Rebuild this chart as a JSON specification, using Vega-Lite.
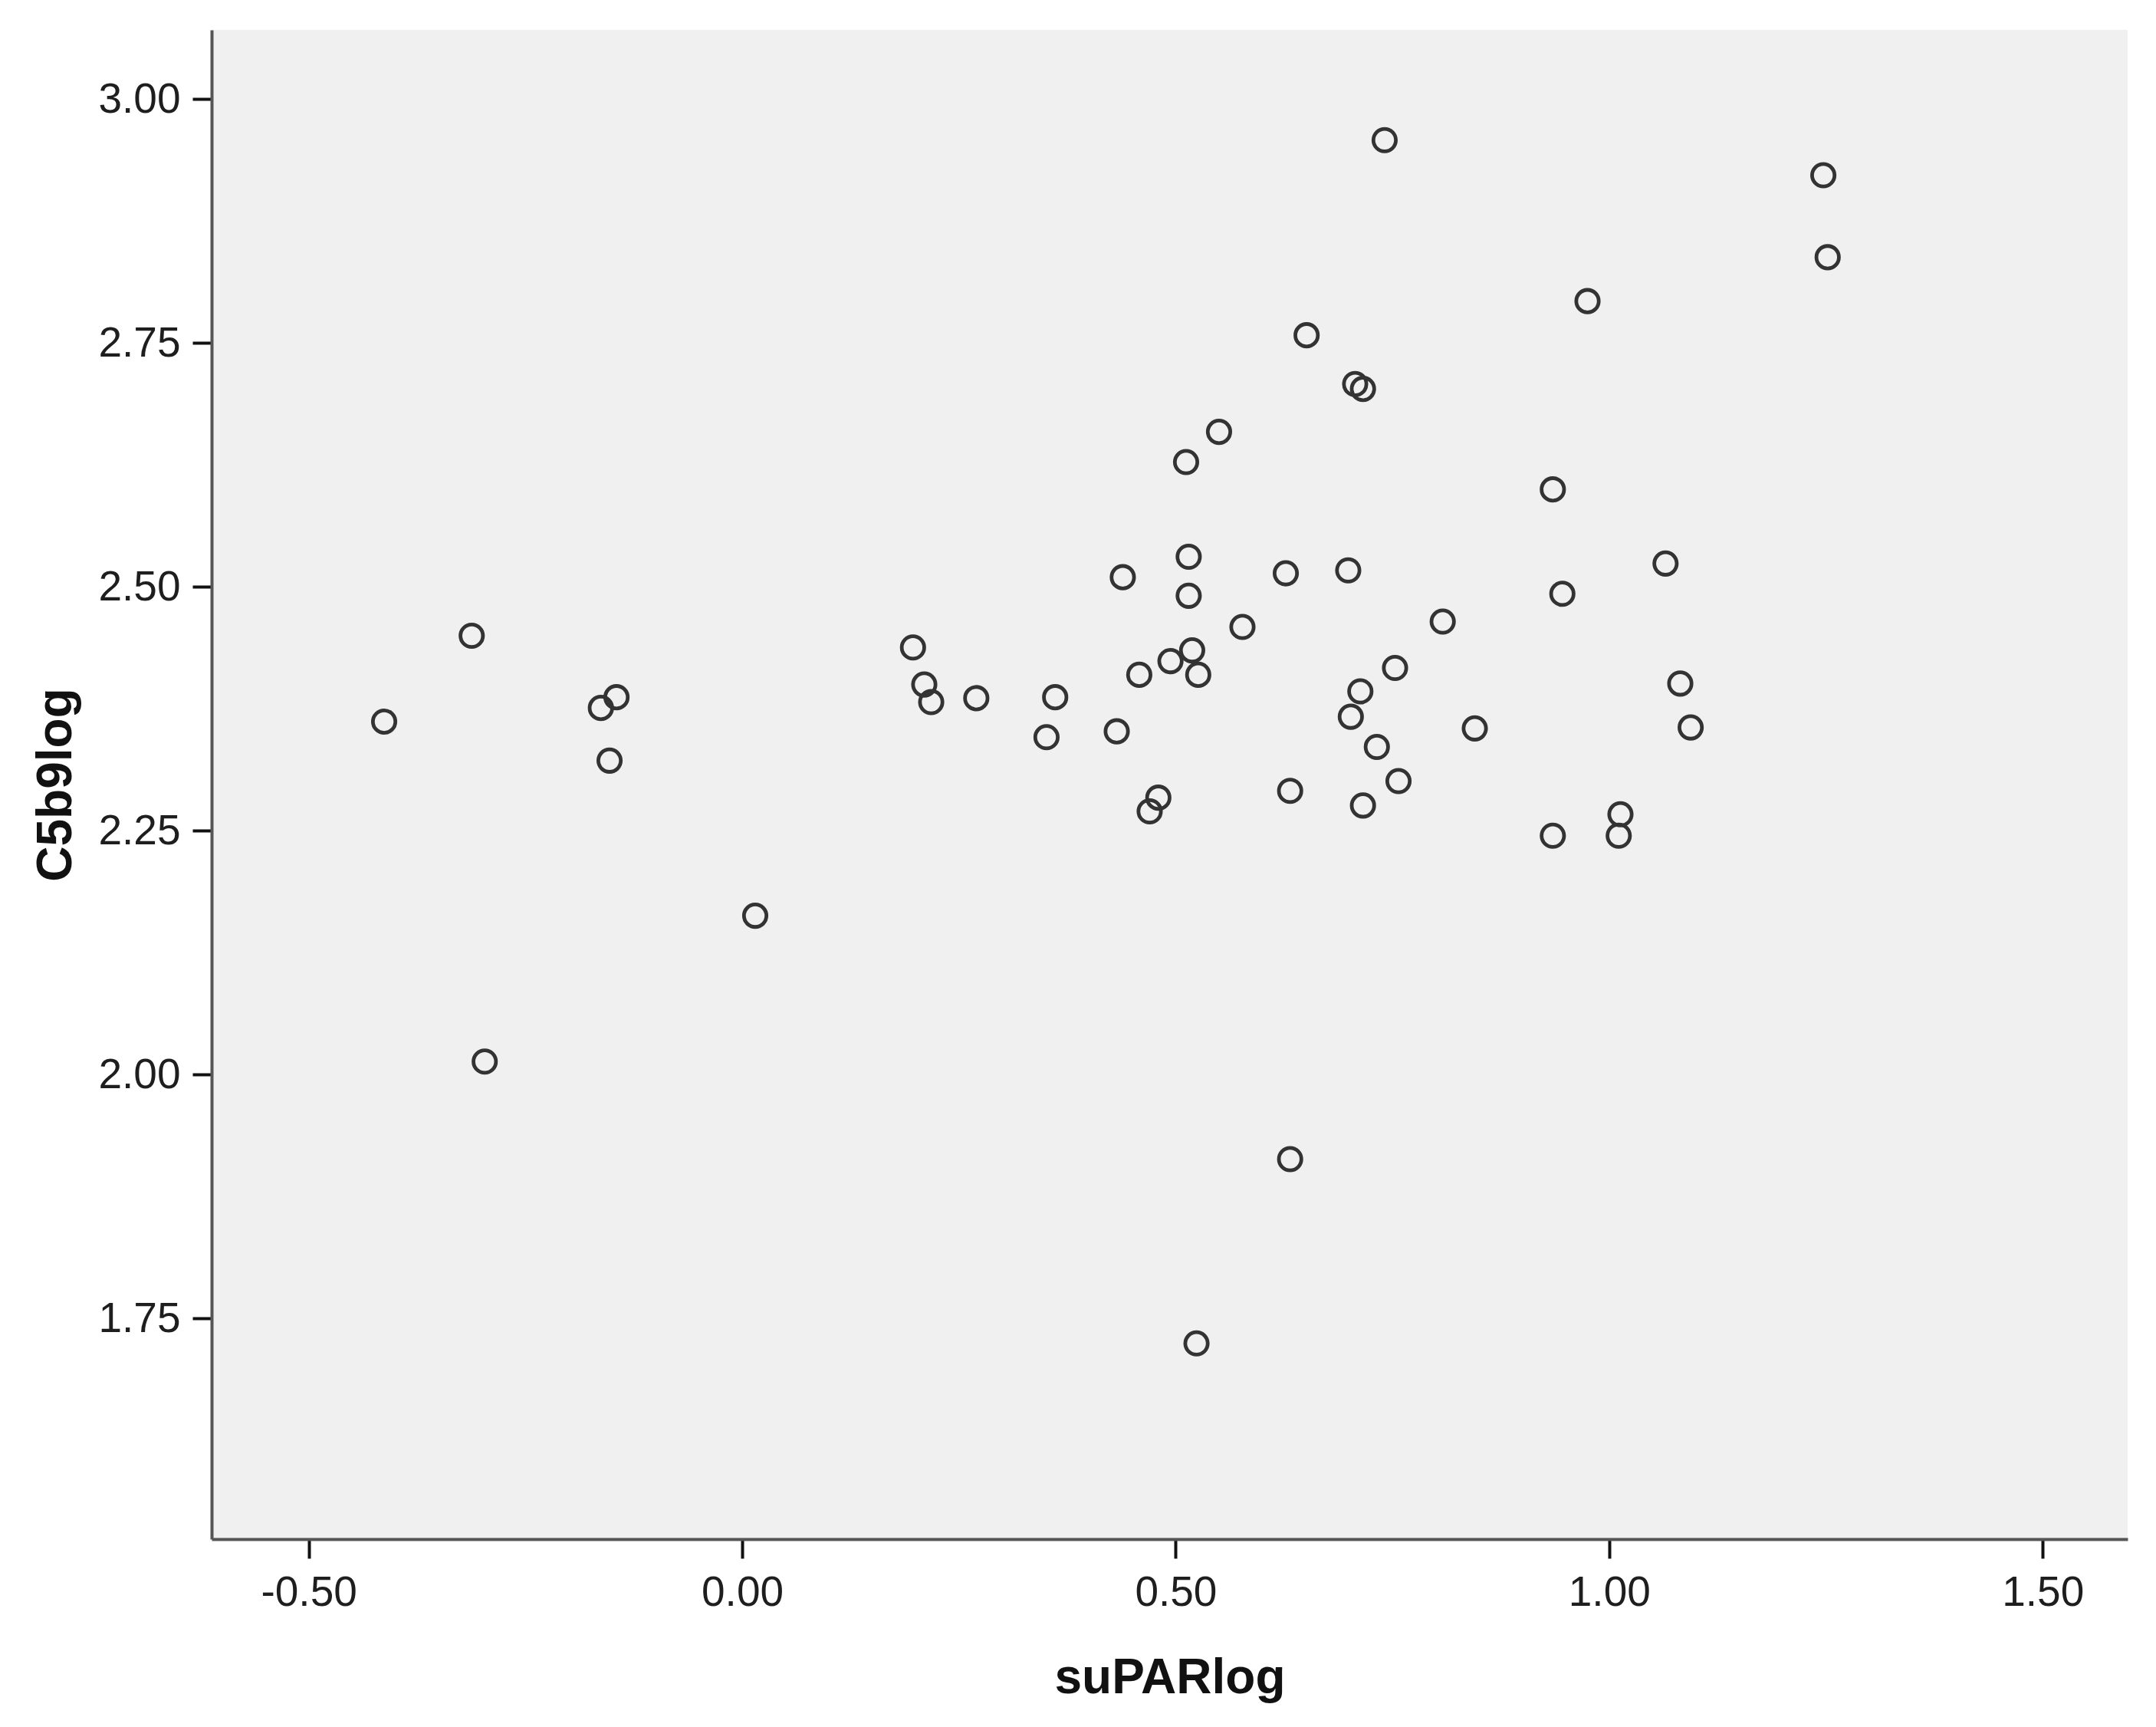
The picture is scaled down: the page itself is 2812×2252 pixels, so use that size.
{
  "$schema": "https://vega.github.io/schema/vega-lite/v6.json",
  "width": 2499,
  "height": 1968,
  "autosize": {"type": "none"},
  "padding": {"left": 276, "top": 39, "right": 37, "bottom": 245},
  "background": "#ffffff",
  "view": {"fill": "#F0F0F0", "stroke": null},
  "config": {
    "font": "Liberation Sans",
    "axis": {
      "grid": false,
      "domainColor": "#555555",
      "domainWidth": 4,
      "tickColor": "#111111",
      "tickWidth": 4,
      "tickSize": 25,
      "labelFont": "Liberation Sans",
      "labelFontSize": 55,
      "labelColor": "#1e1e1e",
      "labelPadding": 16,
      "titleFont": "Liberation Sans",
      "titleFontSize": 64,
      "titleFontWeight": "bold",
      "titleColor": "#111111"
    }
  },
  "data": {
    "values": [
      {"suPARlog": -0.413, "C5b9log": 2.362},
      {"suPARlog": -0.312, "C5b9log": 2.450},
      {"suPARlog": -0.297, "C5b9log": 2.0135},
      {"suPARlog": -0.163, "C5b9log": 2.376},
      {"suPARlog": -0.145, "C5b9log": 2.387},
      {"suPARlog": -0.153, "C5b9log": 2.322},
      {"suPARlog": 0.015, "C5b9log": 2.163},
      {"suPARlog": 0.197, "C5b9log": 2.438},
      {"suPARlog": 0.210, "C5b9log": 2.400},
      {"suPARlog": 0.218, "C5b9log": 2.382},
      {"suPARlog": 0.270, "C5b9log": 2.386},
      {"suPARlog": 0.351, "C5b9log": 2.346},
      {"suPARlog": 0.361, "C5b9log": 2.387},
      {"suPARlog": 0.432, "C5b9log": 2.352},
      {"suPARlog": 0.439, "C5b9log": 2.510},
      {"suPARlog": 0.458, "C5b9log": 2.410},
      {"suPARlog": 0.480, "C5b9log": 2.284},
      {"suPARlog": 0.470, "C5b9log": 2.270},
      {"suPARlog": 0.494, "C5b9log": 2.424},
      {"suPARlog": 0.512, "C5b9log": 2.628},
      {"suPARlog": 0.515, "C5b9log": 2.531},
      {"suPARlog": 0.515, "C5b9log": 2.491},
      {"suPARlog": 0.519, "C5b9log": 2.435},
      {"suPARlog": 0.526, "C5b9log": 2.410},
      {"suPARlog": 0.550, "C5b9log": 2.659},
      {"suPARlog": 0.577, "C5b9log": 2.459},
      {"suPARlog": 0.524, "C5b9log": 1.7246},
      {"suPARlog": 0.627, "C5b9log": 2.514},
      {"suPARlog": 0.632, "C5b9log": 2.291},
      {"suPARlog": 0.632, "C5b9log": 1.9135},
      {"suPARlog": 0.651, "C5b9log": 2.758},
      {"suPARlog": 0.699, "C5b9log": 2.517},
      {"suPARlog": 0.707, "C5b9log": 2.708},
      {"suPARlog": 0.716, "C5b9log": 2.703},
      {"suPARlog": 0.702, "C5b9log": 2.367},
      {"suPARlog": 0.713, "C5b9log": 2.393},
      {"suPARlog": 0.716, "C5b9log": 2.276},
      {"suPARlog": 0.732, "C5b9log": 2.336},
      {"suPARlog": 0.741, "C5b9log": 2.958},
      {"suPARlog": 0.753, "C5b9log": 2.417},
      {"suPARlog": 0.757, "C5b9log": 2.301},
      {"suPARlog": 0.808, "C5b9log": 2.4645},
      {"suPARlog": 0.845, "C5b9log": 2.355},
      {"suPARlog": 0.935, "C5b9log": 2.600},
      {"suPARlog": 0.946, "C5b9log": 2.493},
      {"suPARlog": 0.935, "C5b9log": 2.245},
      {"suPARlog": 0.975, "C5b9log": 2.793},
      {"suPARlog": 1.013, "C5b9log": 2.267},
      {"suPARlog": 1.011, "C5b9log": 2.245},
      {"suPARlog": 1.065, "C5b9log": 2.524},
      {"suPARlog": 1.082, "C5b9log": 2.401},
      {"suPARlog": 1.094, "C5b9log": 2.356},
      {"suPARlog": 1.247, "C5b9log": 2.922},
      {"suPARlog": 1.252, "C5b9log": 2.838}
    ]
  },
  "mark": {"type": "point", "shape": "circle", "filled": false, "stroke": "#333333", "strokeWidth": 4.8, "size": 860, "opacity": 1},
  "encoding": {
    "x": {
      "field": "suPARlog",
      "type": "quantitative",
      "title": "suPARlog",
      "scale": {"domain": [-0.612, 1.598], "nice": false, "zero": false},
      "axis": {"values": [-0.5, 0, 0.5, 1, 1.5], "labelExpr": "replace(format(datum.value, '.2f'), '\u2212', '-')", "labelPadding": 18, "titlePadding": 52}
    },
    "y": {
      "field": "C5b9log",
      "type": "quantitative",
      "title": "C5b9log",
      "scale": {"domain": [1.524, 3.071], "nice": false, "zero": false},
      "axis": {"values": [1.75, 2, 2.25, 2.5, 2.75, 3], "format": ".2f", "titlePadding": 22}
    }
  }
}
